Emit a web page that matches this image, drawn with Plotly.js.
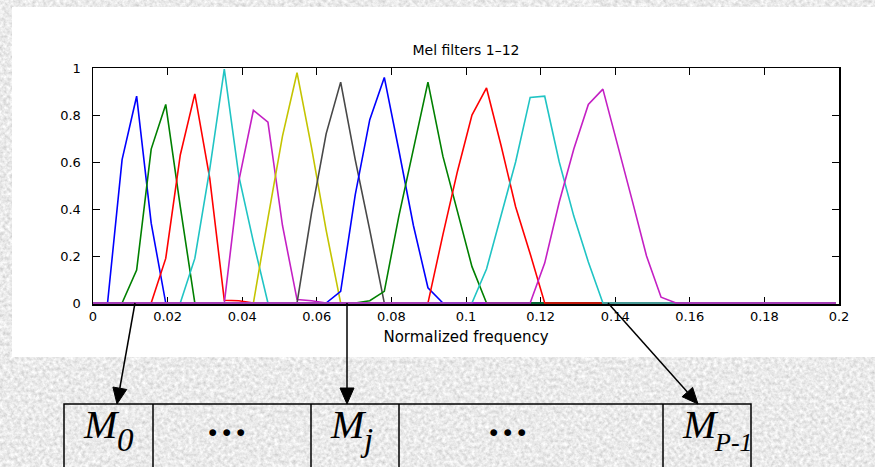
<!DOCTYPE html>
<html>
<head>
<meta charset="utf-8">
<script src="https://cdn.plot.ly/plotly-3.0.1.min.js"></script>
<style>
html,body{margin:0;padding:0;background:#d4d4d4;}
#chart{width:875px;height:467px;}
</style>
</head>
<body>
<div id="chart"></div>
<script>
// ---- data: frequency bins (normalized) and 12 mel filter responses ----
const freq = [0,0.0039,0.0078,0.0117,0.0156,0.0195,0.0234,0.0273,0.0313,0.0352,
  0.0391,0.0430,0.0469,0.0508,0.0547,0.0586,0.0625,0.0664,0.0703,0.0742,
  0.0781,0.0820,0.0859,0.0898,0.0938,0.0977,0.1016,0.1055,0.1094,0.1133,
  0.1172,0.1211,0.1250,0.1289,0.1328,0.1367,0.1406,0.1445,0.1484,0.1523,
  0.1563,0.1602,0.1641,0.1680,0.1719,0.1758,0.1797,0.1836,0.1875,0.1914,0.1953,0.1992];

const mel1  = [0,0,0.61,0.88,0.34,0,0,0,0,0, 0,0,0,0,0,0,0,0,0,0, 0,0,0,0,0,0,0,0,0,0, 0,0,0,0,0,0,0,0,0,0, 0,0,0,0,0,0,0,0,0,0,0,0];
const mel2  = [0,0,0,0.14,0.655,0.845,0.41,0,0,0, 0,0,0,0,0,0,0,0,0,0, 0,0,0,0,0,0,0,0,0,0, 0,0,0,0,0,0,0,0,0,0, 0,0,0,0,0,0,0,0,0,0,0,0];
const mel3  = [0,0,0,0,0,0.19,0.63,0.89,0.53,0.012, 0.01,0,0,0,0,0,0,0,0,0, 0,0,0,0,0,0,0,0,0,0, 0,0,0,0,0,0,0,0,0,0, 0,0,0,0,0,0,0,0,0,0,0,0];
const mel4  = [0,0,0,0,0,0,0,0.19,0.57,0.995, 0.54,0.26,0,0,0,0,0,0,0,0, 0,0,0,0,0,0,0,0,0,0, 0,0,0,0,0,0,0,0,0,0, 0,0,0,0,0,0,0,0,0,0,0,0];
const mel5  = [0,0,0,0,0,0,0,0,0,0, 0.52,0.82,0.77,0.33,0.015,0.01,0,0,0,0, 0,0,0,0,0,0,0,0,0,0, 0,0,0,0,0,0,0,0,0,0, 0,0,0,0,0,0,0,0,0,0,0,0];
const mel6  = [0,0,0,0,0,0,0,0,0,0, 0,0,0.36,0.71,0.98,0.66,0.31,0,0,0, 0,0,0,0,0,0,0,0,0,0, 0,0,0,0,0,0,0,0,0,0, 0,0,0,0,0,0,0,0,0,0,0,0];
const mel7  = [0,0,0,0,0,0,0,0,0,0, 0,0,0,0,0,0.385,0.72,0.94,0.61,0.31, 0,0,0,0,0,0,0,0,0,0, 0,0,0,0,0,0,0,0,0,0, 0,0,0,0,0,0,0,0,0,0,0,0];
const mel8  = [0,0,0,0,0,0,0,0,0,0, 0,0,0,0,0,0,0,0.05,0.46,0.78, 0.96,0.65,0.33,0.065,0,0,0,0,0,0, 0,0,0,0,0,0,0,0,0,0, 0,0,0,0,0,0,0,0,0,0,0,0];
const mel9  = [0,0,0,0,0,0,0,0,0,0, 0,0,0,0,0,0,0,0,0,0.01, 0.05,0.37,0.66,0.94,0.625,0.385,0.155,0,0,0, 0,0,0,0,0,0,0,0,0,0, 0,0,0,0,0,0,0,0,0,0,0,0];
const mel10 = [0,0,0,0,0,0,0,0,0,0, 0,0,0,0,0,0,0,0,0,0, 0,0,0,0,0.29,0.56,0.80,0.915,0.67,0.41, 0.21,0,0,0,0,0,0,0,0,0, 0,0,0,0,0,0,0,0,0,0,0,0];
const mel11 = [0,0,0,0,0,0,0,0,0,0, 0,0,0,0,0,0,0,0,0,0, 0,0,0,0,0,0,0,0.145,0.37,0.6, 0.875,0.88,0.6,0.37,0.175,0,0,0,0,0, 0,0,0,0,0,0,0,0,0,0,0,0];
const mel12 = [0,0,0,0,0,0,0,0,0,0, 0,0,0,0,0,0,0,0,0,0, 0,0,0,0,0,0,0,0,0,0, 0,0.17,0.43,0.655,0.845,0.91,0.68,0.44,0.2,0.025, 0,0,0,0,0,0,0,0,0,0,0,0];

const filters = [mel1,mel2,mel3,mel4,mel5,mel6,mel7,mel8,mel9,mel10,mel11,mel12];
const filterNames = ['Filter 1','Filter 2','Filter 3','Filter 4','Filter 5','Filter 6',
                     'Filter 7','Filter 8','Filter 9','Filter 10','Filter 11','Filter 12'];
const filterColors = ['#0000ff','#008000','#ff0000','#20c4c4','#c420c4','#c4c400','#484848',
                      '#0000ff','#008000','#ff0000','#20c4c4','#c420c4'];

const xTickVals = [0,0.02,0.04,0.06,0.08,0.1,0.12,0.14,0.16,0.18,0.2];
const xTickText = ['0','0.02','0.04','0.06','0.08','0.1','0.12','0.14','0.16','0.18','0.2'];
const yTickVals = [0,0.2,0.4,0.6,0.8,1];
const yTickText = ['0','0.2','0.4','0.6','0.8','1'];

const chartTitle = 'Mel filters 1\u201312';
const xTitle = 'Normalized frequency';

// vector cells under the chart
const cellMain = ['M','.\u200A.\u200A.','M','.\u200A.\u200A.','M'];
const cellSub  = ['0','','j','','P-1'];

// ---- layout helpers (pixel -> paper) ----
const W = 875, H = 467, PL = 93, PR = 839, PT = 68, PB = 304;
const X = p => (p - PL) / (PR - PL);
const Y = p => (PB - p) / (PB - PT);

const traces = filters.map((f, i) => ({
  type: 'scatter', mode: 'lines', x: freq, y: f, name: filterNames[i],
  line: {color: filterColors[i], width: 1.6}, hoverinfo: 'skip'
}));

// stone-like backdrop texture (procedural SVG filter)
const texture = "data:image/svg+xml;charset=utf-8," + encodeURIComponent(
  "<svg xmlns='http://www.w3.org/2000/svg' width='875' height='467'>" +
  "<filter id='n' x='0' y='0' width='100%' height='100%'>" +
  "<feTurbulence type='fractalNoise' baseFrequency='0.28' numOctaves='3' seed='7'/>" +
  "<feColorMatrix type='matrix' values='0.55 0 0 0 0.55  0.55 0 0 0 0.55  0.55 0 0 0 0.55  0 0 0 0 1'/>" +
  "</filter><rect width='875' height='467' filter='url(#n)'/></svg>");

const shapes = [];
// white panel behind the chart
shapes.push({type:'rect', xref:'paper', yref:'paper', layer:'below',
  x0: X(12), x1: X(880), y0: Y(357), y1: Y(7), fillcolor:'#ffffff', line:{width:0}});
// cells
const cellEdges = [64,153,311,399,663,751];
shapes.push({type:'rect', xref:'paper', yref:'paper', x0:X(64), x1:X(751), y0:Y(480), y1:Y(404),
  line:{color:'#000', width:1.5}, fillcolor:'rgba(0,0,0,0)'});
cellEdges.slice(1,-1).forEach(e => shapes.push({type:'line', xref:'paper', yref:'paper',
  x0:X(e), x1:X(e), y0:Y(404), y1:Y(480), line:{color:'#000', width:1.5}}));

function arrow(tail, tip) {
  const dx = tip[0]-tail[0], dy = tip[1]-tail[1], len = Math.hypot(dx, dy);
  const ux = dx/len, uy = dy/len, hl = 16, hw = 7;
  const bx = tip[0]-ux*hl, by = tip[1]-uy*hl, nx = -uy, ny = ux;
  shapes.push({type:'line', xref:'paper', yref:'paper', x0:X(tail[0]), y0:Y(tail[1]),
    x1:X(bx), y1:Y(by), line:{color:'#000', width:1.5}});
  shapes.push({type:'path', xref:'paper', yref:'paper',
    path:`M ${X(tip[0])} ${Y(tip[1])} L ${X(bx+nx*hw)} ${Y(by+ny*hw)} L ${X(bx-nx*hw)} ${Y(by-ny*hw)} Z`,
    fillcolor:'#000', line:{color:'#000', width:1}});
}
arrow([135,303],[117,404]);
arrow([347,303],[347,404]);
arrow([608,303],[698,404]);

const annotations = [];
function label(text, left, baseline, size, bold) {
  annotations.push({xref:'paper', yref:'paper', x:X(left), y:Y(baseline - 0.3375*size),
    xanchor:'left', yanchor:'middle', showarrow:false, borderpad:0,
    text: bold ? '<b><i>'+text+'</i></b>' : '<i>'+text+'</i>',
    font:{family:'Liberation Serif, Times New Roman, serif', size:size, color:'#000'}});
}
label(cellMain[0], 82, 438, 40);  label(cellSub[0], 116, 451, 33);
label(cellMain[1], 208, 436, 42, true);
label(cellMain[2], 329, 438, 40); label(cellSub[2], 359, 451, 33);
label(cellMain[3], 489, 436, 42, true);
label(cellMain[4], 681, 438, 40); label(cellSub[4], 713, 451, 26);

const axisCommon = {
  ticks:'inside', ticklen:7, tickwidth:1, tickcolor:'#000',
  showline:true, linecolor:'#000', linewidth:1.5, mirror:'ticks',
  showgrid:false, zeroline:false, layer:'below traces', fixedrange:true,
  tickfont:{family:'DejaVu Sans', size:13, color:'#000'}
};

const layout = {
  width: W, height: H,
  margin: {l:PL, r:W-PR, t:PT, b:H-PB, pad:0},
  paper_bgcolor:'#d4d4d4', plot_bgcolor:'#ffffff',
  showlegend:false,
  font:{family:'DejaVu Sans', size:13, color:'#000'},
  title:{text: chartTitle, font:{family:'DejaVu Sans', size:14, color:'#000'},
    x:0.5, xref:'paper', xanchor:'center', y:1-50/H, yref:'container', yanchor:'middle'},
  xaxis: Object.assign({}, axisCommon, {range:[0,0.2], tickmode:'array', tickvals:xTickVals, ticktext:xTickText,
    title:{text:xTitle, font:{family:'DejaVu Sans', size:15, color:'#000'}, standoff:8}}),
  yaxis: Object.assign({}, axisCommon, {range:[-0.004,1], tickmode:'array', tickvals:yTickVals, ticktext:yTickText,
    ticklabelstandoff:8}),
  images: [{source: texture, xref:'paper', yref:'paper', x:X(0), y:Y(0), sizex:X(W)-X(0), sizey:Y(0)-Y(H),
    xanchor:'left', yanchor:'top', sizing:'stretch', layer:'below'}],
  shapes: shapes,
  annotations: annotations
};

Plotly.newPlot('chart', traces, layout, {staticPlot:true, displayModeBar:false});
</script>
</body>
</html>
